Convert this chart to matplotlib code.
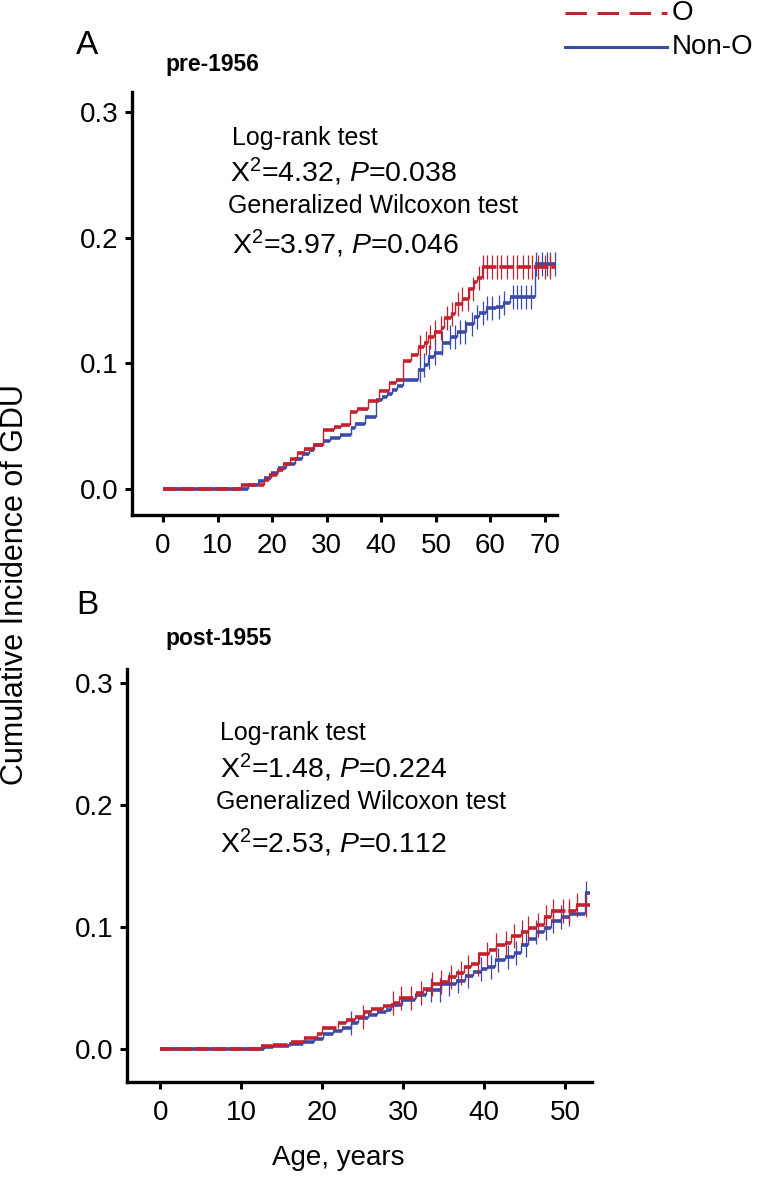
import numpy as np
import matplotlib
matplotlib.use("Agg")
import matplotlib.pyplot as plt
from matplotlib.lines import Line2D

plt.rcParams['font.family'] = ['Liberation Sans', 'DejaVu Sans']
plt.rcParams['mathtext.fontset'] = 'custom'
plt.rcParams['mathtext.rm'] = 'Liberation Sans'
plt.rcParams['mathtext.it'] = 'Liberation Sans:italic'

RED = '#c4212f'
BLUE = '#3a4aa6'

# pre-1956 cohort (step points: age at which the curve jumps, value after jump)
pre_o_age = [0, 14.3, 18.5, 19.5, 20.8, 22.0, 23.3, 24.6, 25.9, 27.5,
             29.3, 31.3, 32.6, 34.2, 35.5, 37.5, 39.6, 41.4, 42.7, 44.0,
             45.5, 46.8, 47.8, 48.6, 49.6, 50.9, 51.4, 52.7, 53.5, 54.8,
             56.1, 56.9, 57.6, 58.4, 72.0]
pre_o_cum = [0, 0.003, 0.007, 0.011, 0.0155, 0.020, 0.024, 0.029, 0.032, 0.035,
             0.047, 0.049, 0.051, 0.061, 0.064, 0.070, 0.078, 0.084, 0.087, 0.102,
             0.107, 0.113, 0.116, 0.121, 0.125, 0.128, 0.136, 0.139, 0.147, 0.151,
             0.159, 0.165, 0.168, 0.177, 0.177]
pre_o_cens = [47.1, 48.1, 48.9, 49.9, 50.9, 52.0, 53.0, 54.0, 54.8, 55.8,
              56.8, 57.9, 58.7, 59.4, 60.2, 61.2, 62.0, 63.0, 64.1, 64.8,
              65.9, 66.9, 67.7, 68.7, 70.0, 71.0]

pre_n_age = [0, 15.6, 17.4, 18.5, 19.7, 21.0, 22.6, 24.1, 25.4, 26.7,
             27.7, 29.3, 30.6, 32.4, 34.4, 35.2, 37.0, 39.1, 40.1, 41.1,
             41.9, 42.9, 44.0, 46.8, 47.8, 48.6, 49.6, 51.2, 52.5, 53.8,
             55.6, 56.9, 57.9, 59.2, 61.0, 62.3, 63.5, 68.2, 72.0]
pre_n_cum = [0, 0.003, 0.006, 0.009, 0.013, 0.0165, 0.020, 0.024, 0.028, 0.031,
             0.035, 0.038, 0.0405, 0.043, 0.0485, 0.052, 0.057, 0.071, 0.073, 0.076,
             0.079, 0.082, 0.087, 0.095, 0.099, 0.105, 0.108, 0.116, 0.121, 0.125,
             0.131, 0.137, 0.140, 0.144, 0.145, 0.148, 0.153, 0.179, 0.179]
pre_n_cens = [47.1, 47.8, 48.8, 49.9, 51.2, 52.5, 53.5, 54.5, 55.3, 56.6,
              57.6, 58.7, 59.4, 60.2, 61.5, 62.5, 64.1, 64.8, 65.6, 66.6,
              67.4, 68.4, 69.5, 70.3, 71.0, 71.8]

# post-1955 cohort
post_o_age = [0, 12.4, 13.9, 16.1, 17.8, 19.4, 20.0, 21.9, 22.9, 24.0,
              25.2, 26.0, 27.5, 28.7, 29.5, 31.6, 32.4, 33.4, 34.5, 35.5,
              36.5, 37.5, 38.4, 39.4, 40.6, 41.5, 42.5, 43.3, 44.5, 45.4,
              46.4, 47.4, 48.3, 51.3, 53.0]
post_o_cum = [0, 0.0027, 0.0035, 0.006, 0.009, 0.012, 0.0175, 0.021, 0.0235, 0.026,
              0.030, 0.0325, 0.035, 0.038, 0.042, 0.046, 0.049, 0.053, 0.055, 0.059,
              0.062, 0.067, 0.070, 0.078, 0.081, 0.085, 0.087, 0.093, 0.096, 0.099,
              0.102, 0.108, 0.1135, 0.118, 0.118]
post_o_cens = [25.0, 28.7, 29.7, 31.0, 32.2, 33.6, 34.7, 35.9, 37.1, 38.0,
               39.2, 40.4, 41.5, 42.7, 43.7, 44.6, 45.4, 46.6, 47.6, 48.5,
               49.7, 50.5, 51.5, 52.6]

post_n_age = [0, 12.8, 13.9, 15.9, 17.6, 19.0, 20.1, 21.3, 22.5, 23.5,
              24.4, 25.6, 26.8, 27.9, 28.5, 29.9, 31.4, 32.8, 34.7, 36.5,
              37.6, 38.6, 39.6, 40.4, 41.3, 42.5, 43.7, 44.5, 45.4, 46.4,
              47.4, 48.3, 49.5, 50.5, 52.4, 53.0]
post_n_cum = [0, 0.0014, 0.0027, 0.004, 0.006, 0.0086, 0.012, 0.015, 0.0175, 0.0216,
              0.0257, 0.028, 0.0305, 0.0324, 0.0365, 0.0405, 0.0446, 0.048, 0.053, 0.056,
              0.0595, 0.063, 0.066, 0.0676, 0.073, 0.0757, 0.079, 0.085, 0.0905, 0.096,
              0.099, 0.105, 0.108, 0.111, 0.128, 0.128]
post_n_cens = [23.6, 33.4, 34.5, 35.7, 36.7, 38.0, 39.6, 40.8, 41.7, 42.9,
               43.9, 45.2, 46.4, 47.6, 48.5, 49.5, 50.5, 52.6]

pre_stats = ["Log-rank test", "X$^{2}$=4.32, $\\mathit{P}$=0.038",
             "Generalized Wilcoxon test", "X$^{2}$=3.97, $\\mathit{P}$=0.046"]
post_stats = ["Log-rank test", "X$^{2}$=1.48, $\\mathit{P}$=0.224",
              "Generalized Wilcoxon test", "X$^{2}$=2.53, $\\mathit{P}$=0.112"]
stat_sizes = [18, 20.5, 18, 20.5]

W, H = 760, 1184
fig = plt.figure(figsize=(W / 100, H / 100), dpi=100)


def px(x, y):
    # pixel position -> figure fraction
    return x / W, 1 - y / H


def draw_curve(ax, age, cum, cens, color, dashed):
    age = np.array(age)
    cum = np.array(cum)
    ls = (0, (4, 0.8)) if dashed else 'solid'
    ax.hlines(cum[:-1], age[:-1], age[1:], colors=color, lw=2.6, linestyles=ls, zorder=3)
    ax.vlines(age[1:-1], cum[:-2], cum[1:-1], colors=color, lw=1.0, zorder=3)
    idx = np.searchsorted(age, cens, side='right') - 1
    ax.plot(cens, cum[idx], ls='none', marker='|', ms=17, mew=0.9, color=color, zorder=3)


def style_axes(ax, xlim, ylim, xticks):
    ax.set_xlim(*xlim)
    ax.set_ylim(*ylim)
    ax.set_xticks(xticks)
    ax.set_yticks([0.0, 0.1, 0.2, 0.3])
    ax.set_yticklabels(['0.0', '0.1', '0.2', '0.3'])
    for s in ['top', 'right']:
        ax.spines[s].set_visible(False)
    for s in ['left', 'bottom']:
        ax.spines[s].set_linewidth(2.4)
    ax.tick_params(width=2.2, length=5, labelsize=20)
    ax.tick_params(axis='x', pad=8)
    ax.tick_params(axis='y', pad=5)


# top panel
l, b = px(132, 515)
ax1 = fig.add_axes([l, b, (557 - 132) / W, (515 - 92) / H])
draw_curve(ax1, pre_n_age, pre_n_cum, pre_n_cens, BLUE, False)
draw_curve(ax1, pre_o_age, pre_o_cum, pre_o_cens, RED, True)
style_axes(ax1, (-5.7, 72.2), (-0.0207, 0.316), range(0, 71, 10))

# bottom panel
l, b = px(127, 1082)
ax2 = fig.add_axes([l, b, (592 - 127) / W, (1082 - 669) / H])
draw_curve(ax2, post_n_age, post_n_cum, post_n_cens, BLUE, False)
draw_curve(ax2, post_o_age, post_o_cum, post_o_cens, RED, True)
style_axes(ax2, (-4.1, 53.3), (-0.027, 0.3115), range(0, 51, 10))

# statistics text
for txt, fs, (x, y) in zip(pre_stats, stat_sizes, [(232, 138), (230, 172), (228, 206), (232, 244)]):
    fig.text(*px(x, y), txt, fontsize=fs, va='center', ha='left')
for txt, fs, (x, y) in zip(post_stats, stat_sizes, [(220, 733), (220, 768), (216, 802), (220, 843)]):
    fig.text(*px(x, y), txt, fontsize=fs, va='center', ha='left')

# panel labels and titles
fig.text(*px(76, 45), "A", fontsize=24, va='center', ha='left')
fig.text(*px(76, 605), "B", fontsize=24, va='center', ha='left')
fig.text(*px(165, 65), "pre-1956", fontsize=16.5, fontweight='bold', va='center', ha='left')
fig.text(*px(165, 638), "post-1955", fontsize=16.5, fontweight='bold', va='center', ha='left')

# axis labels
fig.text(*px(15, 585), "Cumulative Incidence of GDU", fontsize=22, rotation=90,
         va='center', ha='center')
fig.text(*px(338, 1158), "Age, years", fontsize=20, va='center', ha='center')

# legend
fig.add_artist(Line2D([565 / W, 667 / W], [1 - 13 / H, 1 - 13 / H], color=RED, lw=2.2,
                      ls=(0, (7, 3.5))))
fig.text(*px(672, 13), "O", fontsize=20, va='center', ha='left')
fig.add_artist(Line2D([565 / W, 667 / W], [1 - 47 / H, 1 - 47 / H], color=BLUE, lw=2.2))
fig.text(*px(672, 47), "Non-O", fontsize=20, va='center', ha='left')

fig.savefig("out.png", dpi=100)
